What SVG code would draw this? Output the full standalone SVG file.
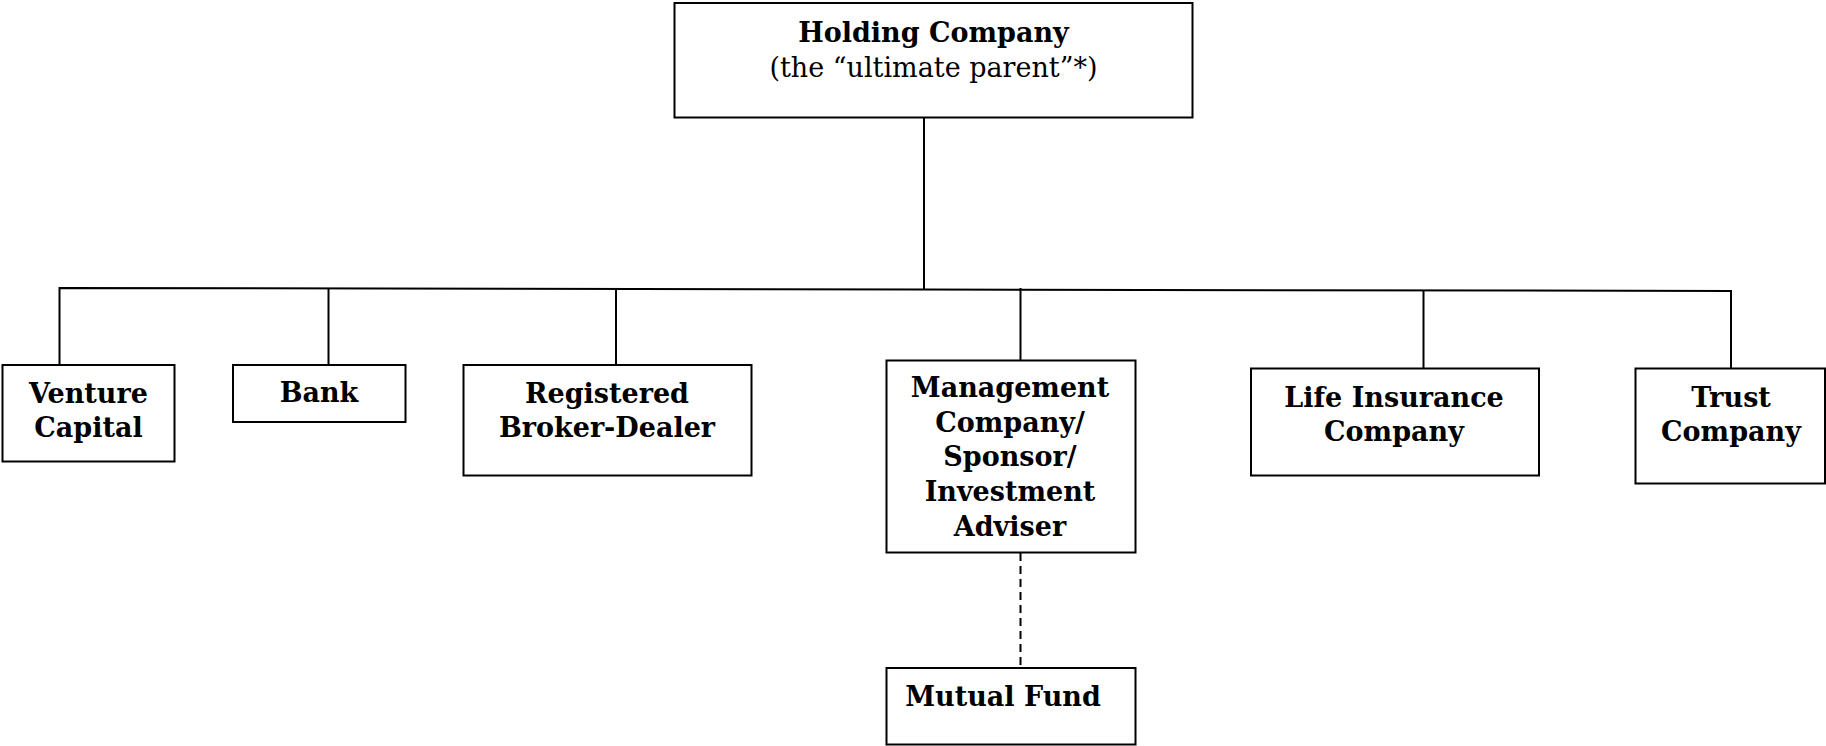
<svg xmlns="http://www.w3.org/2000/svg" width="1826" height="746" viewBox="0 0 1826 746">
<style>
.box{fill:#fff;stroke:#000;stroke-width:2}
.ln{stroke:#000;stroke-width:2;fill:none}
.dash{stroke:#000;stroke-width:2;fill:none;stroke-dasharray:8,5}
.b{font-family:"DejaVu Serif","Liberation Serif",serif;font-weight:bold;font-size:27px;text-anchor:middle;fill:#000}
.r{font-family:"DejaVu Serif","Liberation Serif",serif;font-size:27px;text-anchor:middle;fill:#000}
</style>
<rect width="1826" height="746" fill="#fff"/>
<g id="connectors">
<line class="ln" x1="924" y1="118" x2="924" y2="290"/>
<polyline class="ln" points="59.5,364 59.5,288 924,289.5 1731,291 1731,368"/>
<line class="ln" x1="328.5" y1="288.5" x2="328.5" y2="364"/>
<line class="ln" x1="616" y1="288.8" x2="616" y2="364"/>
<line class="ln" x1="1020.5" y1="288" x2="1020.5" y2="366"/>
<line class="ln" x1="1423.5" y1="290.5" x2="1423.5" y2="368"/>
<line class="dash" x1="1020.5" y1="553" x2="1020.5" y2="670"/>
</g>
<g id="holding">
<rect class="box" x="674.5" y="3" width="518" height="114.5"/>
<text class="b" x="933.5" y="42">Holding Company</text>
<text class="r" x="933.5" y="77">(the “ultimate parent”*)</text>
</g>
<g id="venture">
<rect class="box" x="2.5" y="365" width="172" height="96.5"/>
<text class="b" x="88.5" y="403">Venture</text>
<text class="b" x="88.5" y="437">Capital</text>
</g>
<g id="bank">
<rect class="box" x="233" y="365" width="172.5" height="57"/>
<text class="b" x="319" y="402">Bank</text>
</g>
<g id="broker">
<rect class="box" x="463.5" y="365" width="288" height="110.5"/>
<text class="b" x="607" y="403">Registered</text>
<text class="b" x="607" y="437">Broker-Dealer</text>
</g>
<g id="management">
<rect class="box" x="886.5" y="360.5" width="249" height="192"/>
<text class="b" x="1010" y="397">Management</text>
<text class="b" x="1010" y="432">Company/</text>
<text class="b" x="1010" y="466">Sponsor/</text>
<text class="b" x="1010" y="501">Investment</text>
<text class="b" x="1010" y="536">Adviser</text>
</g>
<g id="life">
<rect class="box" x="1251" y="368.5" width="288" height="107"/>
<text class="b" x="1394" y="407">Life Insurance</text>
<text class="b" x="1394" y="441">Company</text>
</g>
<g id="trust">
<rect class="box" x="1635.5" y="368.5" width="189.5" height="115"/>
<text class="b" x="1731" y="407">Trust</text>
<text class="b" x="1731" y="441">Company</text>
</g>
<g id="mutual">
<rect class="box" x="886.5" y="668" width="249" height="76.5"/>
<text class="b" x="1003" y="706">Mutual Fund</text>
</g>
</svg>
